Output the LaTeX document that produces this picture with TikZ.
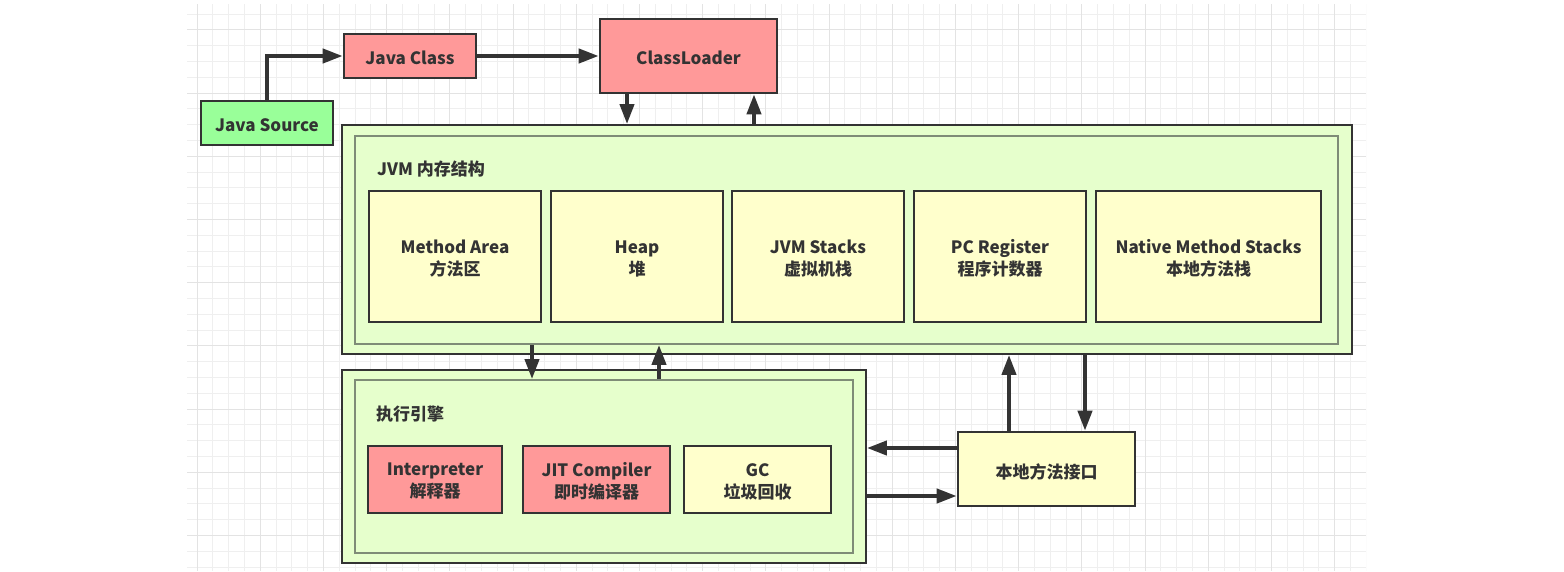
\documentclass[tikz,border=0pt]{standalone}
\usepackage{fontspec}
\setmainfont{Noto Sans CJK SC}
\usetikzlibrary{arrows.meta}
\definecolor{ink}{HTML}{333333}
\definecolor{pinkfill}{HTML}{FF9999}
\definecolor{greenfill}{HTML}{99FF99}
\definecolor{contfill}{HTML}{E6FFCC}
\definecolor{yellowfill}{HTML}{FFFFCC}
\definecolor{innerline}{HTML}{7F8C77}
\definecolor{gridminor}{HTML}{EFEFEF}
\definecolor{gridmajor}{HTML}{E3E3E3}
\tikzset{
  box/.style={draw=ink, line width=2.6pt, inner sep=0pt},
  txt/.style={text=ink, font=\bfseries\fontsize{17}{22}\selectfont, align=center, inner sep=0pt},
  outerbox/.style={draw=ink, line width=1.8pt, fill=contfill, inner sep=0pt},
  innerbox/.style={draw=innerline, line width=1.8pt, fill=contfill, inner sep=0pt},
  lbl/.style={text=ink, font=\bfseries\fontsize{17}{20}\selectfont, anchor=west, inner sep=0pt},
  arr/.style={draw=ink, line width=4pt, -{Triangle[length=20pt,width=14pt]}},
}
\begin{document}
\begin{tikzpicture}[x=1pt,y=-1pt]
\useasboundingbox (0,0) rectangle (1564,571);
\fill[white] (0,0) rectangle (1564,571);
% grid
\begin{scope}
\clip (187,4) rectangle (1366,571);
\foreach \i in {0,...,74} {
  \pgfmathsetmacro{\xx}{197+\i*15.8}
  \draw[gridminor, line width=0.8pt] (\xx,4) -- (\xx,571);
}
\foreach \i in {0,...,35} {
  \pgfmathsetmacro{\yy}{14+\i*15.8}
  \draw[gridminor, line width=0.8pt] (187,\yy) -- (1366,\yy);
}
\foreach \i in {0,...,18} {
  \pgfmathsetmacro{\xx}{197+\i*63.2}
  \draw[gridmajor, line width=0.8pt] (\xx,4) -- (\xx,571);
}
\foreach \i in {0,...,9} {
  \pgfmathsetmacro{\yy}{29.8+\i*63.2}
  \draw[gridmajor, line width=0.8pt] (187,\yy) -- (1366,\yy);
}
\end{scope}

% top nodes
\node[box, fill=greenfill, minimum width=132pt, minimum height=44pt] (jsrc) at (267,123) {};
\node[txt] (jsrct) at ([yshift=-2pt]jsrc.center) {Java Source};
\node[box, fill=pinkfill, minimum width=132pt, minimum height=44pt] (jclass) at (410,56) {};
\node[txt] (jclasst) at ([yshift=-2pt]jclass.center) {Java Class};
\node[box, fill=pinkfill, minimum width=177pt, minimum height=74pt] (cl) at (688.5,56) {};
\node[txt] (clt) at ([yshift=-2pt]cl.center) {ClassLoader};

% JVM memory container
\node[outerbox, minimum width=1010pt, minimum height=229pt] (jvm) at (847,239.5) {};
\node[innerbox, minimum width=983pt, minimum height=208pt] (jvmin) at (846.5,240) {};
\node[lbl] (jvmlbl) at (377,169) {JVM 内存结构};
\node[box, fill=yellowfill, minimum width=172pt, minimum height=131pt] (ma) at (455,256.5) {};
\node[txt] (mat) at ([yshift=-2pt]ma.center) {Method Area\\方法区};
\node[box, fill=yellowfill, minimum width=172pt, minimum height=131pt] (heap) at (637,256.5) {};
\node[txt] (heapt) at ([yshift=-2pt]heap.center) {Heap\\堆};
\node[box, fill=yellowfill, minimum width=172pt, minimum height=131pt] (stk) at (818,256.5) {};
\node[txt] (stkt) at ([yshift=-2pt]stk.center) {JVM Stacks\\虚拟机栈};
\node[box, fill=yellowfill, minimum width=172pt, minimum height=131pt] (pc) at (1000,256.5) {};
\node[txt] (pct) at ([yshift=-2pt]pc.center) {PC Register\\程序计数器};
\node[box, fill=yellowfill, minimum width=225pt, minimum height=131pt] (nms) at (1208.5,256.5) {};
\node[txt] (nmst) at ([yshift=-2pt]nms.center) {Native Method Stacks\\本地方法栈};

% execution engine container
\node[outerbox, minimum width=524pt, minimum height=193pt] (ex) at (604,466.5) {};
\node[innerbox, minimum width=498pt, minimum height=173pt] (exin) at (604,466.5) {};
\node[lbl] (exlbl) at (376,414) {执行引擎};
\node[box, fill=pinkfill, minimum width=134pt, minimum height=67pt] (interp) at (435,479.5) {};
\node[txt] (interpt) at ([yshift=-2pt]interp.center) {Interpreter\\解释器};
\node[box, fill=pinkfill, minimum width=147pt, minimum height=67pt] (jit) at (596.5,479.5) {};
\node[txt] (jitt) at ([yshift=-2pt]jit.center) {JIT Compiler\\即时编译器};
\node[box, fill=yellowfill, minimum width=147pt, minimum height=67pt] (gc) at (757.5,479.5) {};
\node[txt] (gct) at ([yshift=-2pt]gc.center) {GC\\垃圾回收};

% native interface
\node[box, fill=yellowfill, minimum width=177pt, minimum height=74pt] (ni) at (1046.5,469) {};
\node[txt] (nit) at ([yshift=-2.5pt]ni.center) {本地方法接口};

% helper coordinates for connector positions
\coordinate (xa) at (627,0);
\coordinate (xb) at (754,0);
\coordinate (xc) at (532,0);
\coordinate (xd) at (659,0);
\coordinate (xe) at (1009,0);
\coordinate (xf) at (1085,0);
\coordinate (ya) at (0,448);
\coordinate (yb) at (0,496);

% connectors
\draw[arr] (jsrc.north) |- (jclass.west);
\draw[arr] (jclass.east) -- (cl.west);
\draw[arr] (xa |- cl.south) -- (xa |- jvm.north);
\draw[arr] (xb |- jvm.north) -- (xb |- cl.south);
\draw[arr] (xc |- jvmin.south) -- (xc |- exin.north);
\draw[arr] (xd |- exin.north) -- (xd |- jvmin.south);
\draw[arr] (xe |- ni.north) -- (xe |- jvm.south);
\draw[arr] (xf |- jvm.south) -- (xf |- ni.north);
\draw[arr] (ni.west |- ya) -- (ex.east |- ya);
\draw[arr] (ex.east |- yb) -- (ni.west |- yb);
\end{tikzpicture}
\end{document}
